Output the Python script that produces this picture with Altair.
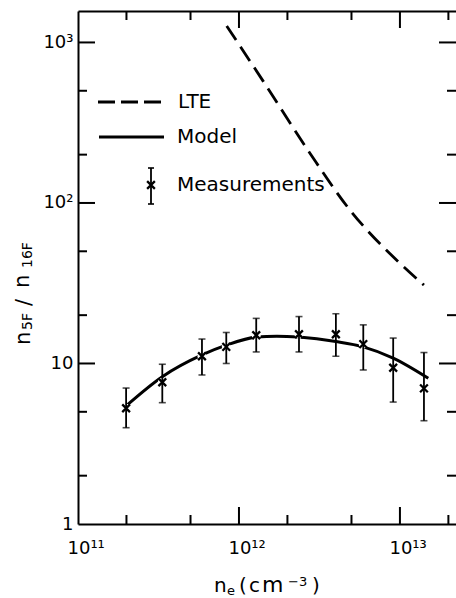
import math
import altair as alt
import pandas as pd

# ---------------- data ----------------
ne_meas = [1.99e11, 3.34e11, 5.89e11, 8.34e11, 1.28e12, 2.36e12, 4.0e12, 5.92e12, 9.08e12, 1.41e13]
ratio_meas = [5.26, 7.64, 11.1, 12.7, 15.0, 15.2, 15.2, 13.2, 9.41, 7.0]
err_hi = [7.03, 9.89, 14.2, 15.6, 19.1, 19.6, 20.4, 17.4, 14.4, 11.7]
err_lo = [3.98, 5.70, 8.48, 10.0, 11.8, 11.8, 11.1, 9.11, 5.75, 4.40]

model_ne = [1.99e11, 3.34e11, 5.89e11, 8.34e11, 1.28e12, 1.72e12, 2.36e12, 4.0e12, 5.92e12, 9.08e12, 1.50e13]
model_ratio = [5.44, 8.27, 11.3, 13.0, 14.6, 14.8, 14.6, 13.7, 12.7, 10.8, 8.09]

lte_ne = [8.39e11, 1.42e12, 2.76e12, 4.89e12, 1.0e13, 1.41e13]
lte_ratio = [1267, 570, 204, 90.4, 42.1, 30.8]

x_label_values = [1e11, 1e12, 1e13]
x_label_texts = ["10¹¹", "10¹²", "10¹³"]
y_label_values = [1, 10, 100, 1000]
y_label_texts = ["1", "10", "10²", "10³"]
x_tick_values = [2e11, 5e11, 1e12, 2e12, 5e12, 1e13, 2e13]
y_tick_values = [2, 5, 10, 20, 50, 100, 200, 500, 1000]

legend_labels = ["LTE", "Model", "Measurements"]

# ---------------- layout ----------------
W, H = 378, 513
PL, PT = 78, 11
FONT = "DejaVu Sans"
TICK_COLOR = "black"

meas = pd.DataFrame({"ne": ne_meas, "ratio": ratio_meas, "hi": err_hi, "lo": err_lo})
model = pd.DataFrame({"ne": model_ne, "ratio": model_ratio})
lte = pd.DataFrame({"ne": lte_ne, "ratio": lte_ratio})

xscale = alt.Scale(type="log", domain=[1e11, 2.23e13], nice=False)
yscale = alt.Scale(type="log", domain=[1, 1570], nice=False)


def label_expr(vals, texts):
    v = ",".join(repr(float(a)) for a in vals)
    t = ",".join("'" + s + "'" for s in texts)
    return f"[{t}][indexof([{v}], datum.value)]"


x_label_axis = alt.Axis(orient="bottom", values=x_label_values,
                        labelExpr=label_expr(x_label_values, x_label_texts),
                        ticks=False, tickSize=0, domain=True, domainColor="black", domainWidth=2,
                        labelPadding=15, labelAlign="left", labelOffset=-11, labelBaseline="top",
                        labelFont=FONT, labelFontSize=18, labelColor="black",
                        labelFlush=False, labelOverlap=False, grid=False, title=None)
y_label_axis = alt.Axis(orient="left", values=y_label_values,
                        labelExpr=label_expr(y_label_values, y_label_texts),
                        ticks=False, tickSize=0, domain=True, domainColor="black", domainWidth=2,
                        labelPadding=5, labelBaseline="middle",
                        labelFont=FONT, labelFontSize=18, labelColor="black",
                        labelFlush=False, labelOverlap=False, grid=False, title=None)
top_axis = alt.Axis(orient="top", labels=False, ticks=False, domain=True, domainColor="black",
                    domainWidth=2, grid=False, title=None)


def is_major(v):
    lg = math.log10(v)
    return abs(lg - round(lg)) < 1e-6


# model line
model_line = alt.Chart(model).mark_line(color="black", strokeWidth=3, interpolate="monotone").encode(
    x=alt.X("ne:Q", scale=xscale, axis=x_label_axis),
    y=alt.Y("ratio:Q", scale=yscale, axis=y_label_axis),
)

# LTE line
lte_line = alt.Chart(lte).mark_line(color="black", strokeWidth=2.8, strokeDash=[17, 8],
                                    interpolate="monotone").encode(
    x=alt.X("ne:Q", scale=xscale, axis=top_axis),
    y=alt.Y("ratio:Q", scale=yscale, axis=None),
)

# inward ticks on all four sides
tick_layers = []
for vals_all, chan in ((x_tick_values, "x"), (y_tick_values, "y")):
    for major_flag, length in ((True, 17), (False, 9)):
        vals = [v for v in vals_all if is_major(v) == major_flag]
        df = pd.DataFrame({"v": vals})
        if chan == "x":
            enc_pos = alt.X("v:Q", scale=xscale, axis=None)
            tick_layers.append(alt.Chart(df).mark_rule(color=TICK_COLOR, strokeWidth=2).encode(
                x=enc_pos, y=alt.value(H), y2=alt.value(H - length)))
            tick_layers.append(alt.Chart(df).mark_rule(color=TICK_COLOR, strokeWidth=2).encode(
                x=enc_pos, y=alt.value(0), y2=alt.value(length)))
        else:
            enc_pos = alt.Y("v:Q", scale=yscale, axis=None)
            tick_layers.append(alt.Chart(df).mark_rule(color=TICK_COLOR, strokeWidth=2).encode(
                y=enc_pos, x=alt.value(0), x2=alt.value(length)))
            tick_layers.append(alt.Chart(df).mark_rule(color=TICK_COLOR, strokeWidth=2).encode(
                y=enc_pos, x=alt.value(W), x2=alt.value(W - length)))

# white halo around markers (gaps in the model curve)
halo = alt.Chart(meas).mark_point(shape="circle", filled=True, color="white", opacity=1, size=80).encode(
    x=alt.X("ne:Q", scale=xscale, axis=None),
    y=alt.Y("ratio:Q", scale=yscale, axis=None),
)

err = alt.Chart(meas).mark_rule(color="black", strokeWidth=1.8).encode(
    x=alt.X("ne:Q", scale=xscale, axis=None),
    y=alt.Y("lo:Q", scale=yscale, axis=None),
    y2="hi:Q",
)
cap_hi = alt.Chart(meas).mark_tick(color="black", orient="horizontal", size=7, thickness=1.6).encode(
    x=alt.X("ne:Q", scale=xscale, axis=None),
    y=alt.Y("hi:Q", scale=yscale, axis=None),
)
cap_lo = alt.Chart(meas).mark_tick(color="black", orient="horizontal", size=7, thickness=1.6).encode(
    x=alt.X("ne:Q", scale=xscale, axis=None),
    y=alt.Y("lo:Q", scale=yscale, axis=None),
)
XSHAPE = "M-1,-1L1,1M-1,1L1,-1"
markers = alt.Chart(meas).mark_point(shape=XSHAPE, filled=False, color="black", strokeWidth=2.3,
                                     size=60, opacity=1).encode(
    x=alt.X("ne:Q", scale=xscale, axis=None),
    y=alt.Y("ratio:Q", scale=yscale, axis=None),
)

one = alt.Data(values=[{}])


def txt(s, sx, sy, size=20, angle=0, baseline="alphabetic"):
    kw = dict(text=s, font=FONT, fontSize=size, color="black", align="left", baseline=baseline)
    if angle:
        kw["angle"] = angle
    return alt.Chart(one).mark_text(**kw).encode(x=alt.value(sx - PL), y=alt.value(sy - PT))


def rule(sx1, sy1, sx2, sy2, width=2.8, dash=None):
    kw = dict(color="black", strokeWidth=width)
    if dash:
        kw["strokeDash"] = dash
    return alt.Chart(one).mark_rule(**kw).encode(
        x=alt.value(sx1 - PL), x2=alt.value(sx2 - PL), y=alt.value(sy1 - PT), y2=alt.value(sy2 - PT))


# legend
legend_layers = [
    rule(98, 102, 162, 102, 2.8, [17, 6]),
    txt(legend_labels[0], 178, 108),
    rule(99, 137, 164, 137, 3),
    txt(legend_labels[1], 177, 143),
    rule(151, 168, 151, 204, 1.8),
    rule(148, 168, 154, 168, 1.6),
    rule(148, 204, 154, 204, 1.6),
    alt.Chart(one).mark_point(shape=XSHAPE, filled=False, color="black", strokeWidth=2.3, size=60,
                              opacity=1).encode(x=alt.value(151 - PL), y=alt.value(185 - PT)),
    txt(legend_labels[2], 177, 191),
]

# axis titles built from pieces (sub/superscripts)
title_layers = [
    txt("n", 214, 592, 20),
    txt("e", 227, 595, 13),
    txt("(", 239, 592, 20),
    txt("c", 249, 592, 20),
    txt("m", 262, 592, 22),
    txt("−3", 288, 586, 13),
    txt(")", 312, 592, 20),
    txt("n", 30, 345, 21, 270),
    txt("5F", 32, 330, 14, 270),
    txt("/", 31, 306, 21, 270),
    txt("n", 29, 288, 21, 270),
    txt("16F", 32, 268, 14, 270),
]

chart = alt.layer(
    model_line, lte_line, *tick_layers, halo, err, cap_hi, cap_lo, markers, *legend_layers, *title_layers
).resolve_axis(x="independent", y="independent").properties(
    width=W, height=H,
    padding={"left": PL, "top": PT, "right": 0, "bottom": 598 - PT - H},
    autosize=alt.AutoSizeParams(type="none"),
    background="white",
).configure_view(stroke=None)

chart.save("out.html", embed_options={"renderer": "svg", "actions": False})
